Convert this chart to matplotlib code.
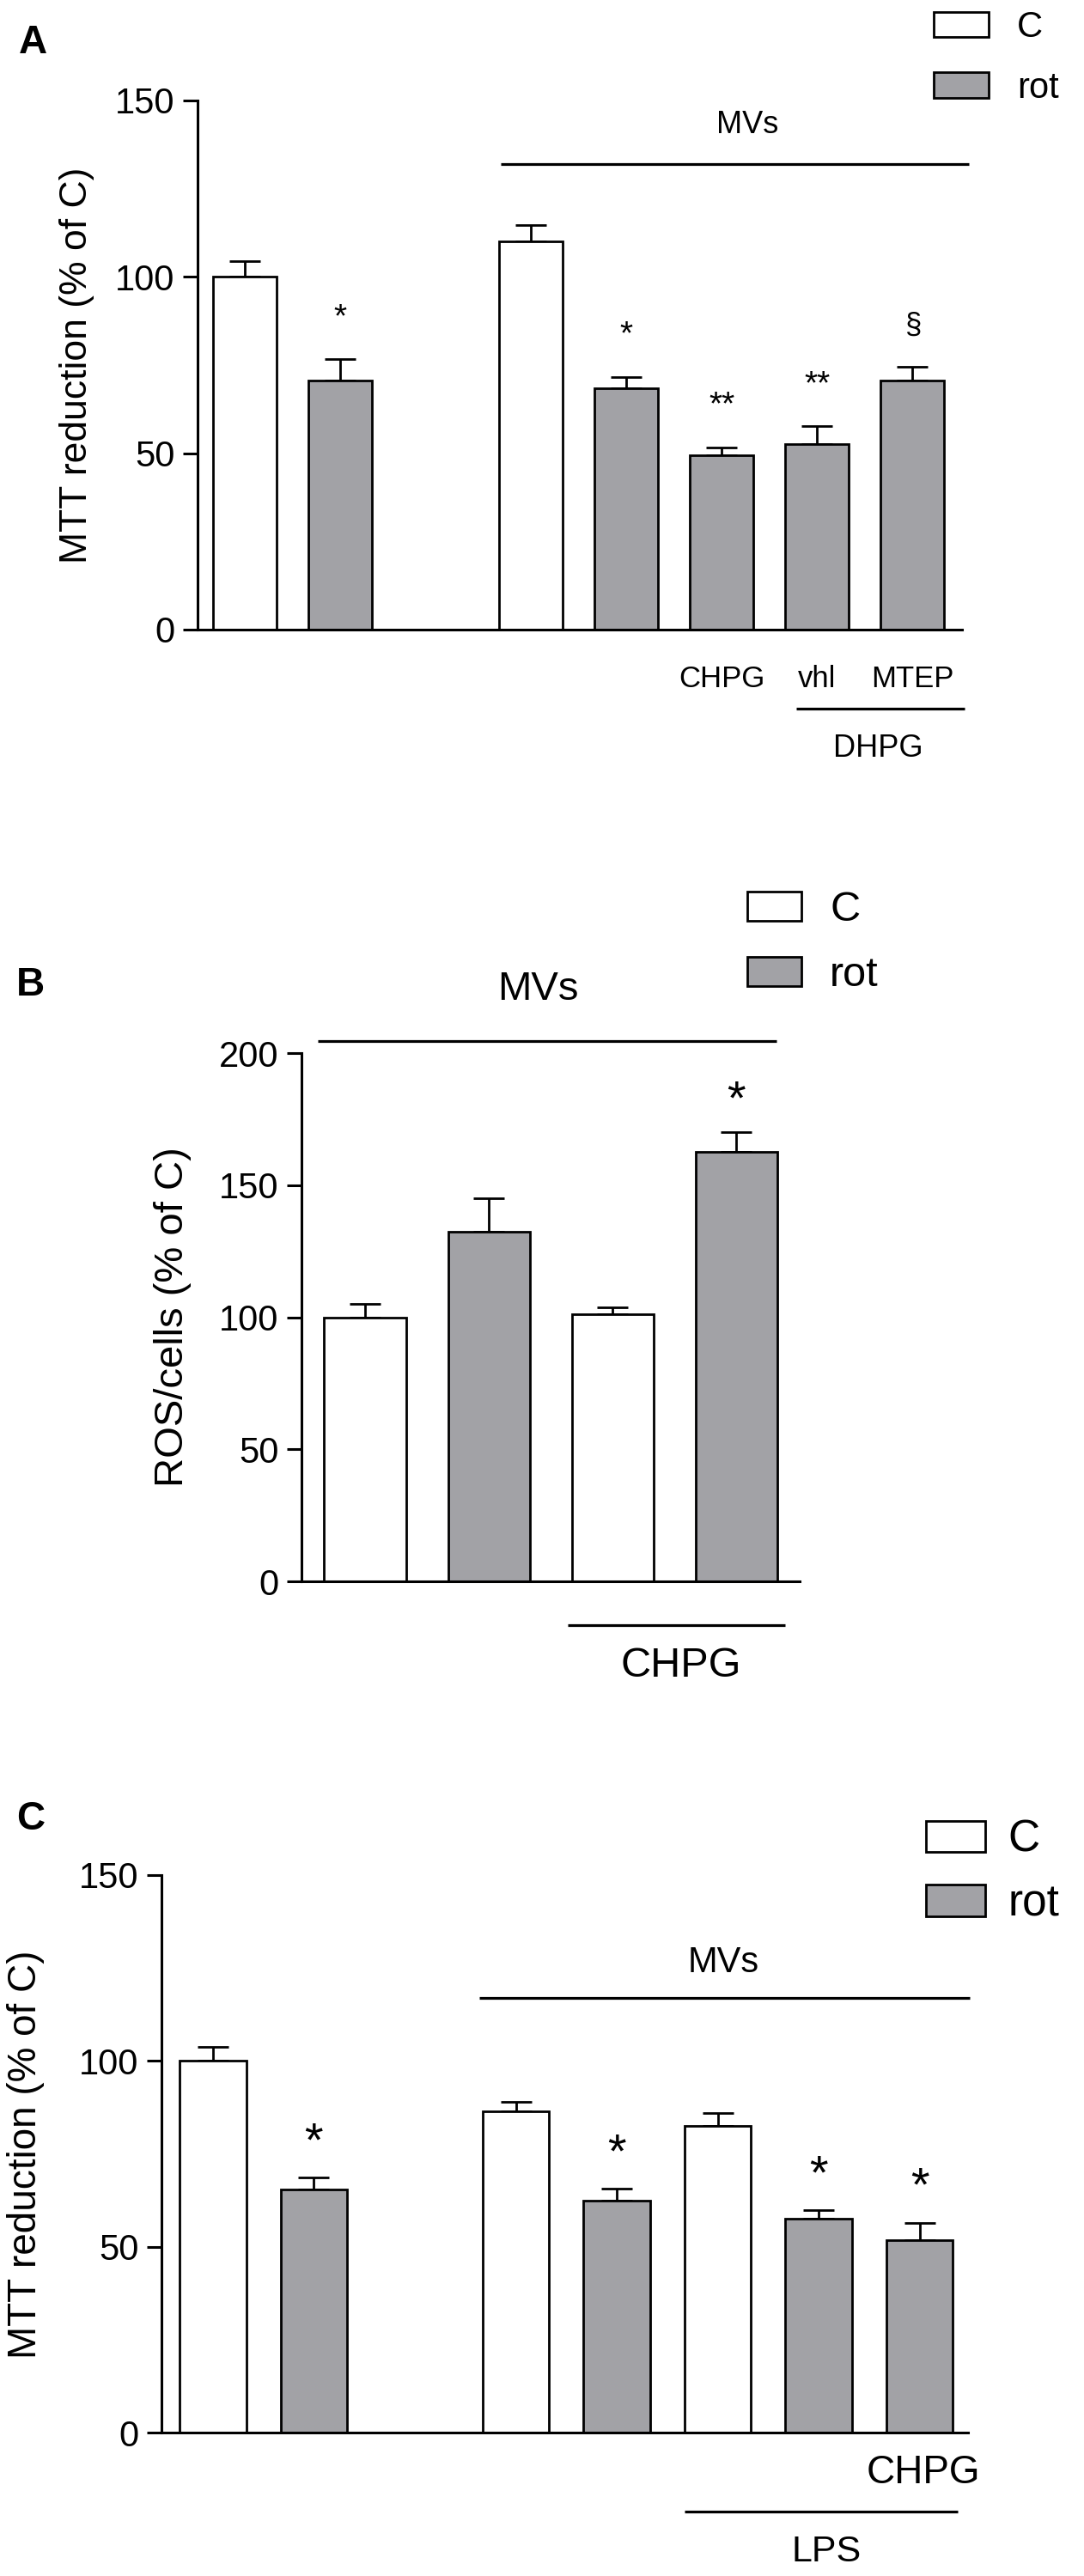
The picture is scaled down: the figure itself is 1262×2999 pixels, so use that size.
import matplotlib
matplotlib.use("Agg")
import matplotlib.pyplot as plt
import numpy as np

plt.rcParams['font.family'] = ['Liberation Sans', 'DejaVu Sans']

# ---------------- data ----------------
# Panel A: MTT reduction (% of C)
xA = [0, 1, 3, 4, 5, 6, 7]
groupA = ['C', 'rot', 'C', 'rot', 'rot', 'rot', 'rot']
valsA = [100, 70.6, 110, 68.5, 49.5, 52.7, 70.7]
errA = [4.4, 6.0, 4.6, 3.2, 2.2, 4.9, 3.9]
marksA = ['', '*', '', '*', '**', '**', '§']
labelsA = ['', '', '', '', 'CHPG', 'vhl', 'MTEP']

# Panel B: ROS/cells (% of C)
xB = [0, 1, 2, 3]
groupB = ['C', 'rot', 'C', 'rot']
valsB = [100, 132.4, 101.1, 162.6]
errB = [4.9, 12.6, 2.6, 7.5]
marksB = ['', '', '', '*']

# Panel C: MTT reduction (% of C)
xC = [0, 1, 3, 4, 5, 6, 7]
groupC = ['C', 'rot', 'C', 'rot', 'C', 'rot', 'rot']
valsC = [100, 65.4, 86.4, 62.4, 82.5, 57.5, 51.7]
errC = [3.7, 3.2, 2.6, 3.2, 3.5, 2.3, 4.7]
marksC = ['', '*', '', '*', '', '*', '*']

GRAY = '#a2a2a6'
W, H = 1262, 2999
fig = plt.figure(figsize=(W / 100, H / 100), dpi=100)


def add_ax(l, r, t, b):
    return fig.add_axes([l / W, 1 - b / H, (r - l) / W, (b - t) / H])


def style(ax, ylim, yticks):
    ax.set_ylim(*ylim)
    ax.set_yticks(yticks)
    for s in ['top', 'right']:
        ax.spines[s].set_visible(False)
    for s in ['left', 'bottom']:
        ax.spines[s].set_linewidth(2.2)
    ax.tick_params(axis='y', direction='out', length=12, width=2.2,
                   labelsize=30, pad=7)
    ax.set_xticks([])


def bars(ax, x, groups, vals, errs, width):
    x = np.array(x, float)
    v = np.array(vals, float)
    e = np.array(errs, float)
    g = np.array(groups)
    for name, col in [('C', 'white'), ('rot', GRAY)]:
        m = g == name
        ax.bar(x[m], v[m], width, color=col, edgecolor='black',
               linewidth=2.0, label=name, zorder=2)
    ax.errorbar(x, v, yerr=[np.zeros_like(e), e], fmt='none', ecolor='black',
                elinewidth=2.0, capsize=13, capthick=2.0, zorder=1.5)


def ctext(ax, x, y, s, fs, frac=0.358, dy=0.0, **kw):
    # place text so that glyph centre (frac of em above baseline) lands on (x, y)
    ax.annotate(s, (x, y), xytext=(0, dy - frac * fs), textcoords='offset points',
                ha='center', va='baseline', fontsize=fs, annotation_clip=False, **kw)


def marks(ax, x, vals, errs, ms, fs, off_pt):
    for xi, v, e, m in zip(x, vals, errs, ms):
        if not m:
            continue
        frac = 0.27 if m == '§' else 0.58
        f = 25 if m == '§' else fs
        off = off_pt - 10 if m == '§' else off_pt
        ctext(ax, xi, v + e, m, f, frac=frac, dy=off)


def hline(ax, x0, x1, y):
    ax.plot([x0, x1], [y, y], color='black', lw=2.3, clip_on=False,
            solid_capstyle='butt')


def legend(ax, fs, hlen, htpad, lspace, x_px, y_px):
    ax.legend(loc='upper left', bbox_to_anchor=(x_px / W, 1 - y_px / H),
              bbox_transform=fig.transFigure, frameon=False, fontsize=fs,
              handlelength=hlen, handleheight=0.72, handletextpad=htpad,
              labelspacing=lspace, borderpad=0, borderaxespad=0)


# ---------------- Panel A ----------------
axA = add_ax(230, 1120, 117, 733)
axA.set_xlim(-0.5, 7.52)
style(axA, (0, 150), [0, 50, 100, 150])
bars(axA, xA, groupA, valsA, errA, 0.667)
marks(axA, xA, valsA, errA, marksA, 28, 44)
for xi, lab in zip(xA, labelsA):
    if lab:
        ctext(axA, xi, -13.2, lab, 25)
hline(axA, 5.78, 7.55, -22.4)
ctext(axA, 6.64, -32.9, 'DHPG', 26)
hline(axA, 2.68, 7.59, 132)
ctext(axA, 5.27, 143.9, 'MVs', 26)
legend(axA, 30, 1.53, 0.79, 0.74, 1087, 12)

# ---------------- Panel B ----------------
axB = add_ax(351, 931, 1226, 1841)
axB.set_xlim(-0.513, 3.51)
style(axB, (0, 200), [0, 50, 100, 150, 200])
bars(axB, xB, groupB, valsB, errB, 0.66)
marks(axB, xB, valsB, errB, marksB, 40, 39)
hline(axB, -0.38, 3.32, 204.6)
ctext(axB, 1.40, 225.7, 'MVs', 34)
hline(axB, 1.64, 3.39, -16.6)
ctext(axB, 2.55, -30.6, 'CHPG', 35)
legend(axB, 35, 1.30, 0.68, 0.64, 870, 1037)

# ---------------- Panel C ----------------
axC = add_ax(188, 1127, 2183, 2832)
axC.set_xlim(-0.51, 7.48)
style(axC, (0, 150), [0, 50, 100, 150])
bars(axC, xC, groupC, valsC, errC, 0.66)
marks(axC, xC, valsC, errC, marksC, 40, 42)
hline(axC, 2.64, 7.5, 116.9)
ctext(axC, 5.06, 127.3, 'MVs', 30)
ctext(axC, 7.04, -9.9, 'CHPG', 33)
hline(axC, 4.67, 7.38, -21.2)
ctext(axC, 6.08, -31.2, 'LPS', 31)
legend(axC, 37, 1.34, 0.52, 0.50, 1078, 2118)

# ---------------- labels ----------------
def ftext(xp, yp, s, fs, **kw):
    fig.text(xp / W, 1 - yp / H, s, fontsize=fs, ha='center', va='center', **kw)

ftext(38, 50, 'A', 33, fontweight='bold')
ftext(35, 1147, 'B', 33, fontweight='bold')
ftext(36, 2118, 'C', 33, fontweight='bold')
ftext(90, 425, 'MTT reduction (% of C)', 32, rotation=90)
ftext(201, 1533, 'ROS/cells (% of C)', 34, rotation=90)
ftext(30, 2508, 'MTT reduction (% of C)', 33, rotation=90)

fig.savefig('out.png', dpi=100)
